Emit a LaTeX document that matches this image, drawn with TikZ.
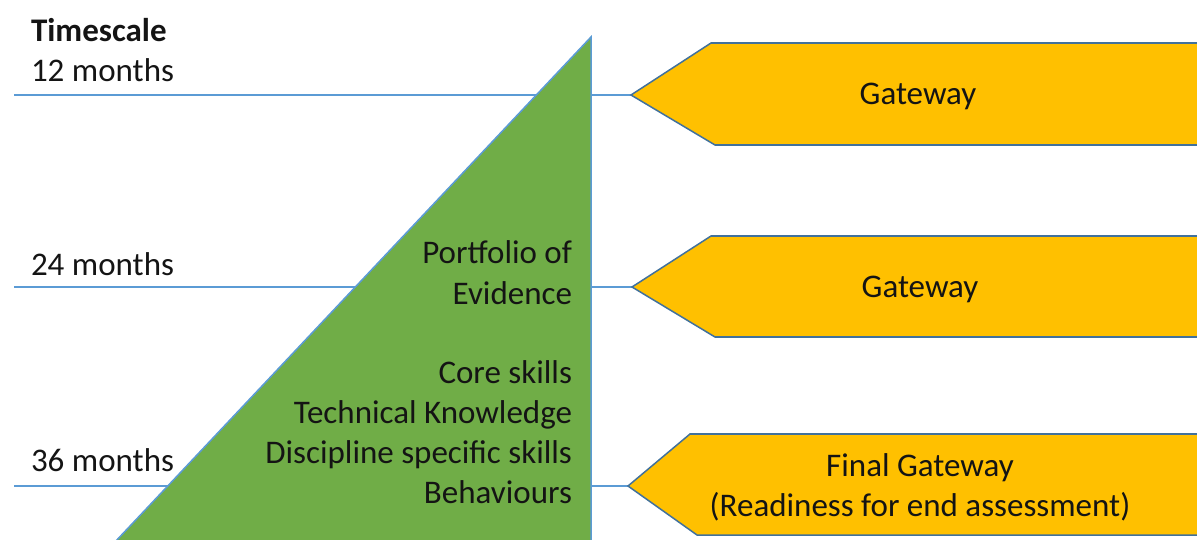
\documentclass[tikz,border=0pt]{standalone}
\usepackage{fontspec}
\setmainfont{Carlito}

\definecolor{barGreen}{HTML}{70AD47}
\definecolor{gateOrange}{HTML}{FFC000}
\definecolor{lineBlue}{HTML}{5B9BD5}
\definecolor{edgeBlue}{HTML}{41719C}
\definecolor{textcol}{HTML}{141414}

\begin{document}
\begin{tikzpicture}[x=1pt, y=-1pt,
    every node/.style={font=\fontsize{33}{40}\selectfont, text=textcol, inner sep=0, outer sep=0},
    gate/.style={fill=gateOrange, draw=edgeBlue, line width=1.5bp}]

    \clip (0,0) rectangle (1197,540);
    \pgfsetlinewidth{1.5bp}

    % timescale lines
    \coordinate (L12) at (14,95);
    \coordinate (L24) at (14,287);
    \coordinate (L36) at (14,486);
    \coordinate (T12) at (631,95);
    \coordinate (T24) at (632,287);
    \coordinate (T36) at (628,486);
    \draw[lineBlue] (L12) -- (T12);
    \draw[lineBlue] (L24) -- (T24);
    \draw[lineBlue] (L36) -- (T36);

    % green wedge
    \fill[barGreen, draw=lineBlue] (591,37) -- (591,560) -- (98,560) -- cycle;

    % gateways
    \draw[gate] (T12) -- (711,43) -- (1210,43) -- (1210,145) -- (715,145) -- cycle;
    \draw[gate] (T24) -- (711,236) -- (1210,236) -- (1210,337) -- (715,337) -- cycle;
    \draw[gate] (T36) -- (690,434) -- (1210,434) -- (1210,535) -- (697,535) -- cycle;

    \node[anchor=base] (gate12) at (918,105) {Gateway};
    \node[anchor=base] (gate24) at (920,297) {Gateway};
    \node[anchor=base, align=center] (gate36) at (920,516) {Final Gateway\\(Readiness for end assessment)};

    % timescale labels
    \node[anchor=base west, font=\fontsize{33}{40}\selectfont\bfseries] (timescale) at (31,42) {Timescale};
    \node[anchor=base west] (m12) at (31,82) {12 months};
    \node[anchor=base west] (m24) at (31,276) {24 months};
    \node[anchor=base west] (m36) at (31,471) {36 months};

    % wedge contents
    \node[anchor=base east, align=right] (portfolio) at (572,304) {Portfolio of\\Evidence};
    \node[anchor=base east, align=right] (skills) at (572,503) {Core skills\\Technical Knowledge\\Discipline specific skills\\Behaviours};
\end{tikzpicture}
\end{document}
